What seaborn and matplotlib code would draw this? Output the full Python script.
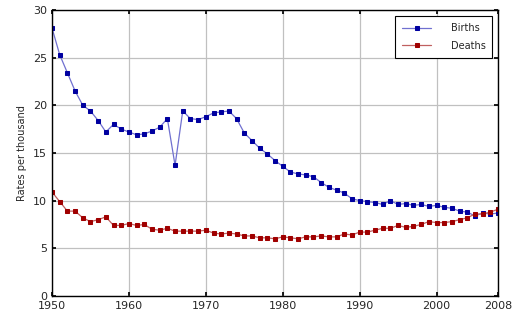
import matplotlib
matplotlib.use("Agg")
import matplotlib.pyplot as plt
import seaborn as sns
import pandas as pd

years = list(range(1950, 2009))
births = [28.1, 25.3, 23.4, 21.5, 20.0, 19.4, 18.4, 17.2, 18.0, 17.5,
          17.2, 16.9, 17.0, 17.3, 17.7, 18.6, 13.7, 19.4, 18.6, 18.5,
          18.8, 19.2, 19.3, 19.4, 18.6, 17.1, 16.3, 15.5, 14.9, 14.2,
          13.6, 13.0, 12.8, 12.7, 12.5, 11.9, 11.4, 11.1, 10.8, 10.2,
          10.0, 9.9, 9.8, 9.6, 10.0, 9.6, 9.7, 9.5, 9.6, 9.4,
          9.5, 9.3, 9.2, 8.9, 8.8, 8.4, 8.7, 8.6, 8.7]
deaths = [10.9, 9.9, 8.9, 8.9, 8.2, 7.8, 8.0, 8.3, 7.4, 7.4,
          7.6, 7.4, 7.5, 7.0, 6.9, 7.1, 6.8, 6.8, 6.8, 6.8,
          6.9, 6.6, 6.5, 6.6, 6.5, 6.3, 6.3, 6.1, 6.1, 6.0,
          6.2, 6.1, 6.0, 6.2, 6.2, 6.3, 6.2, 6.2, 6.5, 6.4,
          6.7, 6.7, 6.9, 7.1, 7.1, 7.4, 7.2, 7.3, 7.5, 7.8,
          7.7, 7.7, 7.8, 8.0, 8.2, 8.6, 8.6, 8.8, 9.1]
xticks = [1950, 1960, 1970, 1980, 1990, 2000, 2008]
yticks = [0, 5, 10, 15, 20, 25, 30]

sns.set_theme(style="whitegrid")
plt.rcParams['font.family'] = ['DejaVu Sans']

df = pd.DataFrame({"Year": years * 2,
                   "Rate": births + deaths,
                   "Series": ["Births"] * len(years) + ["Deaths"] * len(years)})

fig = plt.figure(figsize=(5.12, 3.2), dpi=100)
ax = fig.add_axes([0.1016, 0.075, 0.8711, 0.894])

line_colors = {"Births": "#7070d0", "Deaths": "#c06060"}
marker_colors = {"Births": "#0000a0", "Deaths": "#a00000"}
for name in ["Births", "Deaths"]:
    sub = df[df.Series == name]
    sns.lineplot(data=sub, x="Year", y="Rate", ax=ax, color=line_colors[name],
                 linewidth=0.9, marker="s", markersize=3.0,
                 markerfacecolor=marker_colors[name], markeredgecolor=marker_colors[name],
                 label=name)

ax.set_xlim(1950, 2008)
ax.set_ylim(0, 30)
ax.set_xticks(xticks)
ax.set_yticks(yticks)
ax.set_xlabel("")
ax.set_ylabel("Rates per thousand", fontsize=7)
ax.tick_params(labelsize=8, direction="in", length=3, color="black",
               left=True, bottom=True, right=True, top=True)
ax.grid(True, color="#c0c0c0", linewidth=0.9)
for s in ax.spines.values():
    s.set_color("black")
    s.set_linewidth(1.0)

leg = ax.legend(loc="upper right", fontsize=7, frameon=True, fancybox=False,
                edgecolor="black", framealpha=1, borderpad=0.7, labelspacing=0.8,
                handlelength=3, handletextpad=2, bbox_to_anchor=(0.998, 0.995))
leg.get_frame().set_linewidth(0.8)

fig.savefig("out.png", dpi=100)
